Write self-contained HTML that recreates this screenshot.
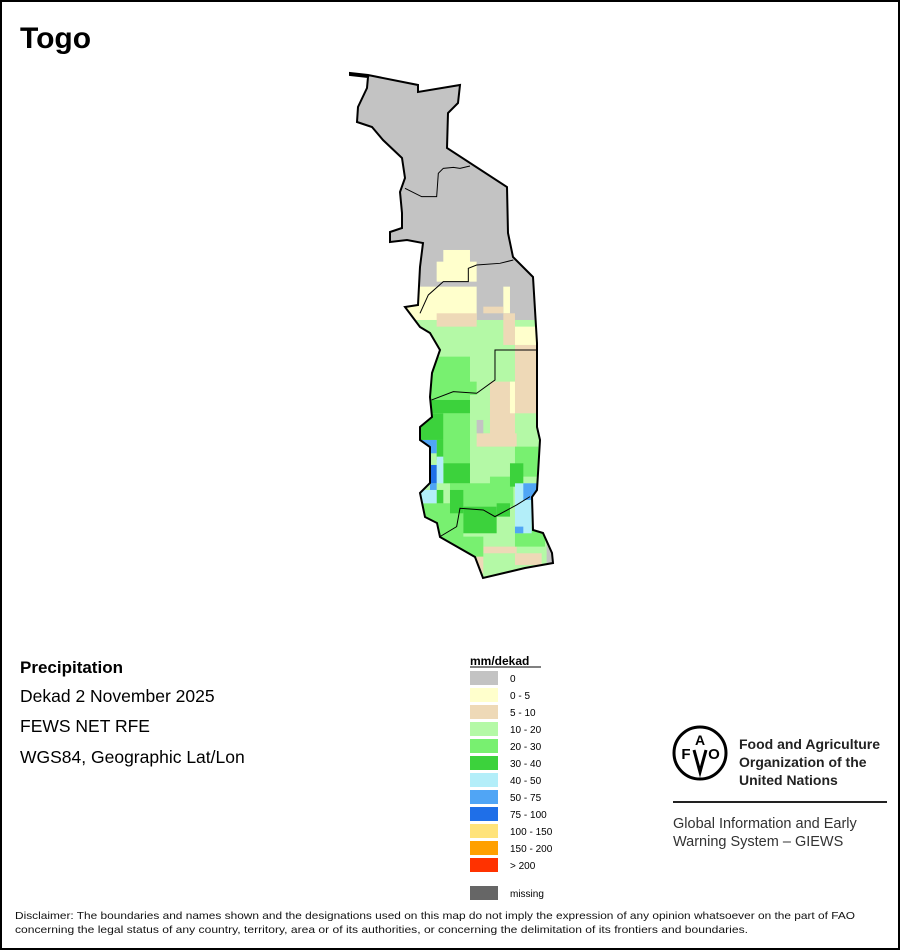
<!DOCTYPE html>
<html><head><meta charset="utf-8"><style>
html,body{margin:0;padding:0;background:#fff}
svg{display:block;font-family:"Liberation Sans",Arial,sans-serif}
</style></head><body>
<svg width="900" height="950" viewBox="0 0 900 950">
<rect x="1" y="1" width="898" height="948" fill="#fff" stroke="#000" stroke-width="2"/>
<text x="20" y="48" font-size="30" font-weight="bold">Togo</text>

<defs>
<clipPath id="tg"><polygon id="outline" points="350,73 368,75 418,85 418,92 460,85 458,103 448,113 447,148 507,187 508,233 513,257 533,277 537,343 537,427 540,440 537,490 532,497 533,530 543,533 552,553 553,563 525,568 483,578 475,557 440,537 437,523 425,517 420,493 430,483 430,447 420,440 420,427 432,417 430,397 432,373 440,350 430,333 420,327 405,307 418,305 420,267 423,243 407,240 390,242 390,232 402,228 402,213 400,192 405,178 402,158 383,140 372,127 357,122 358,107 367,88 368,77 350,75"/></clipPath>
</defs>

<g clip-path="url(#tg)">
<rect x="340" y="60" width="230" height="540" fill="#c3c3c3"/>
<g transform="translate(340,60) scale(0.3333)" id="cells">
<rect x="200" y="780" width="420" height="800" fill="#b4f9a6"/>
<rect x="310" y="570" width="80" height="40" fill="#ffffcc"/>
<rect x="290" y="605" width="120" height="60" fill="#ffffcc"/>
<rect x="200" y="680" width="210" height="100" fill="#ffffcc"/>
<rect x="490" y="680" width="20" height="80" fill="#ffffcc"/>
<rect x="525" y="800" width="80" height="55" fill="#ffffcc"/>
<rect x="290" y="760" width="120" height="40" fill="#eed9b7"/>
<rect x="430" y="740" width="60" height="20" fill="#eed9b7"/>
<rect x="490" y="760" width="35" height="95" fill="#eed9b7"/>
<rect x="525" y="855" width="80" height="205" fill="#eed9b7"/>
<rect x="450" y="965" width="75" height="165" fill="#eed9b7"/>
<rect x="410" y="1120" width="120" height="40" fill="#eed9b7"/>
<rect x="430" y="1460" width="100" height="20" fill="#eed9b7"/>
<rect x="525" y="1480" width="80" height="35" fill="#eed9b7"/>
<rect x="410" y="1480" width="20" height="60" fill="#eed9b7"/>
<rect x="510" y="965" width="15" height="95" fill="#ffffcc"/>
<rect x="270" y="890" width="120" height="140" fill="#78f070"/>
<rect x="390" y="965" width="20" height="40" fill="#78f070"/>
<rect x="310" y="1060" width="80" height="160" fill="#78f070"/>
<rect x="330" y="1270" width="190" height="70" fill="#78f070"/>
<rect x="450" y="1250" width="80" height="30" fill="#78f070"/>
<rect x="525" y="1160" width="70" height="90" fill="#78f070"/>
<rect x="250" y="1330" width="120" height="110" fill="#78f070"/>
<rect x="525" y="1400" width="90" height="60" fill="#78f070"/>
<rect x="300" y="1430" width="130" height="60" fill="#78f070"/>
<rect x="270" y="1020" width="120" height="40" fill="#3cd23c"/>
<rect x="230" y="1060" width="80" height="80" fill="#3cd23c"/>
<rect x="290" y="1140" width="20" height="60" fill="#3cd23c"/>
<rect x="310" y="1210" width="80" height="60" fill="#3cd23c"/>
<rect x="330" y="1290" width="40" height="70" fill="#3cd23c"/>
<rect x="370" y="1340" width="100" height="80" fill="#3cd23c"/>
<rect x="470" y="1330" width="40" height="40" fill="#3cd23c"/>
<rect x="290" y="1290" width="20" height="40" fill="#3cd23c"/>
<rect x="510" y="1210" width="40" height="70" fill="#3cd23c"/>
<rect x="230" y="1290" width="60" height="40" fill="#b3eef9"/>
<rect x="290" y="1190" width="20" height="80" fill="#b3eef9"/>
<rect x="525" y="1270" width="50" height="150" fill="#b3eef9"/>
<rect x="230" y="1140" width="60" height="40" fill="#50a5f5"/>
<rect x="550" y="1270" width="40" height="50" fill="#50a5f5"/>
<rect x="270" y="1270" width="20" height="20" fill="#50a5f5"/>
<rect x="525" y="1400" width="25" height="20" fill="#50a5f5"/>
<rect x="272" y="1215" width="18" height="55" fill="#1f6fe8"/>
<rect x="410" y="1080" width="20" height="40" fill="#c3c3c3"/>
</g>
</g>
<g fill="none" stroke="#000" stroke-width="1" transform="translate(340,60) scale(0.3333)">
<polyline points="390,318 360,325 340,322 310,325 295,340 290,410 245,410 195,385" stroke-width="3"/>
<polyline points="520,600 480,610 410,615 385,625 385,665 310,665 265,705 240,760" stroke-width="3"/>
<polyline points="590,870 465,870 465,960 410,1000 340,995 275,1020" stroke-width="3"/>
<polyline points="570,1310 530,1335 465,1370 430,1350 360,1345 350,1400 300,1430" stroke-width="3"/>
</g>
<use href="#outline" fill="none" stroke="#000" stroke-width="2"/>

<g font-size="17.5">
<text x="20" y="673" font-weight="bold" font-size="17">Precipitation</text>
<text x="20" y="702">Dekad 2 November 2025</text>
<text x="20" y="732">FEWS NET RFE</text>
<text x="20" y="763">WGS84, Geographic Lat/Lon</text>
</g>

<g font-size="10">
<text x="470" y="665" font-size="12" font-weight="bold">mm/dekad</text>
<line x1="470" y1="667" x2="541" y2="667" stroke="#000" stroke-width="1"/>
<g id="legend-items"></g>
<rect x="470" y="886" width="28" height="14" fill="#666"/>
<text x="510" y="897">missing</text>
</g>

<g>
<circle cx="700" cy="753" r="26" fill="none" stroke="#000" stroke-width="3"/>
<text x="686" y="759" font-size="15" font-weight="bold" text-anchor="middle">F</text>
<text x="700" y="745" font-size="14" font-weight="bold" text-anchor="middle">A</text>
<text x="714" y="759" font-size="15" font-weight="bold" text-anchor="middle">O</text>
<path d="M694,750 L700,772 L706,750" fill="none" stroke="#000" stroke-width="3"/>
<text x="739" y="749" font-size="14" font-weight="bold" fill="#222">Food and Agriculture</text>
<text x="739" y="767" font-size="14" font-weight="bold" fill="#222">Organization of the</text>
<text x="739" y="785" font-size="14" font-weight="bold" fill="#222">United Nations</text>
<line x1="673" y1="802" x2="887" y2="802" stroke="#222" stroke-width="2"/>
<text x="673" y="828" font-size="14.5" fill="#333">Global Information and Early</text>
<text x="673" y="846" font-size="14.5" fill="#333">Warning System – GIEWS</text>
</g>

<g font-size="10.5" fill="#111">
<text x="15" y="919" textLength="840" lengthAdjust="spacingAndGlyphs">Disclaimer: The boundaries and names shown and the designations used on this map do not imply the expression of any opinion whatsoever on the part of FAO</text>
<text x="15" y="933" textLength="733" lengthAdjust="spacingAndGlyphs">concerning the legal status of any country, territory, area or of its authorities, or concerning the delimitation of its frontiers and boundaries.</text>
</g>
</svg>
<script>
const legendLabels = ["0","0 - 5","5 - 10","10 - 20","20 - 30","30 - 40","40 - 50","50 - 75","75 - 100","100 - 150","150 - 200","> 200"];
const legendColors = ["#c3c3c3","#ffffcc","#eed9b7","#b4f9a6","#78f070","#3cd23c","#b3eef9","#50a5f5","#1f6fe8","#ffe37a","#ffa000","#ff3200"];
const g = document.getElementById('legend-items');
const ns = "http://www.w3.org/2000/svg";
legendLabels.forEach((lab, i) => {
  const y = 671 + i * 17;
  const r = document.createElementNS(ns, 'rect');
  r.setAttribute('x', 470); r.setAttribute('y', y);
  r.setAttribute('width', 28); r.setAttribute('height', 14);
  r.setAttribute('fill', legendColors[i]);
  
  
  g.appendChild(r);
  const t = document.createElementNS(ns, 'text');
  t.setAttribute('x', 510); t.setAttribute('y', y + 11);
  t.textContent = lab;
  
  
  g.appendChild(t);
});
</script>
</body></html>
